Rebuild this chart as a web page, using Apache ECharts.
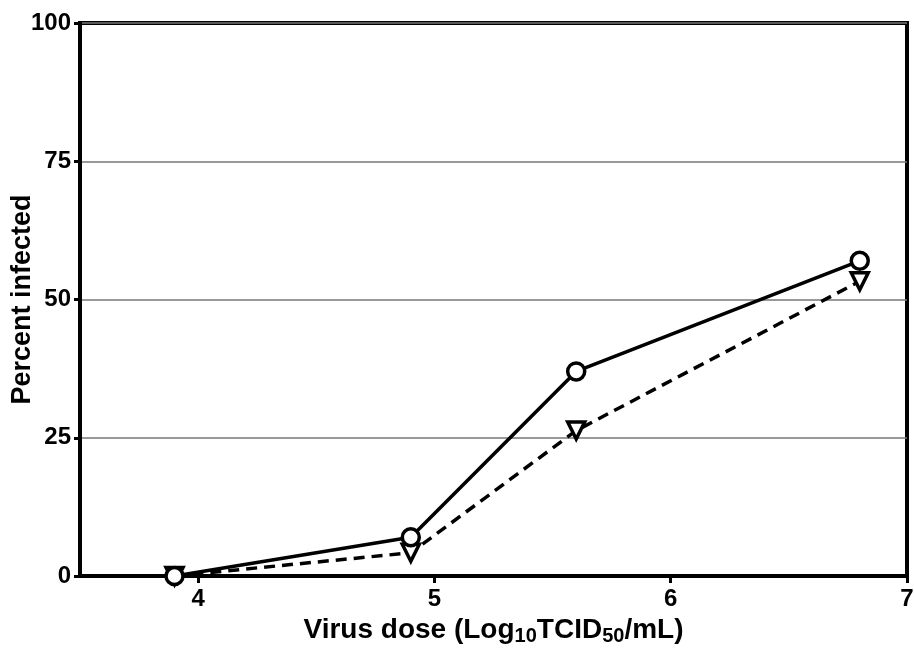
<!DOCTYPE html>
<html>
<head>
<meta charset="utf-8">
<script src="https://cdn.jsdelivr.net/npm/echarts@6/dist/echarts.min.js"></script>
<style>html,body{margin:0;padding:0;background:#fff}#c{width:914px;height:651px}</style>
</head>
<body>
<div id="c"></div>
<script>
const doses = [3.9, 4.9, 5.6, 6.8];
const solidSeries = [0, 7, 37, 57];
const dashedSeries = [0, 4.2, 26.3, 53.3];
const yTicks = [0, 25, 50, 75, 100];
const xTicks = [4, 5, 6, 7];

const chart = echarts.init(document.getElementById('c'), null, {renderer: 'canvas'});
const font = '"Liberation Sans", Arial, Helvetica, sans-serif';
chart.setOption({
  backgroundColor: '#fff',
  animation: false,
  grid: {left: 80, right: 7, top: 23, bottom: 75, outerBoundsMode: 'none', containLabel: false,
    show: true, borderColor: '#000', borderWidth: 4, backgroundColor: 'transparent'},
  xAxis: {
    type: 'value', min: 3.5, max: 7, interval: 0.5,
    axisLine: {show: true, lineStyle: {color: '#000', width: 4}},
    axisTick: {show: true, length: 7, lineStyle: {color: '#000', width: 3},
      customValues: xTicks},
    axisLabel: {customValues: xTicks, color: '#000', fontSize: 24, fontWeight: 'bold', fontFamily: font, margin: 11},
    splitLine: {show: false},
    name: '{b|Virus dose (Log}{s|10}{b|TCID}{s|50}{b|/mL)}',
    nameLocation: 'middle', nameGap: 34,
    nameTextStyle: {
      rich: {
        b: {fontSize: 28, fontWeight: 'bold', fontFamily: font, color: '#000', lineHeight: 34, verticalAlign: 'middle'},
        s: {fontSize: 20, fontWeight: 'bold', fontFamily: font, color: '#000', lineHeight: 16, verticalAlign: 'bottom'}
      }
    }
  },
  yAxis: {
    type: 'value', min: 0, max: 100, interval: 25,
    axisLine: {show: true, lineStyle: {color: '#000', width: 4}},
    axisTick: {show: true, length: 6, lineStyle: {color: '#000', width: 3}},
    axisLabel: {color: '#000', fontSize: 24, fontWeight: 'bold', fontFamily: font, margin: 9,
      formatter: v => yTicks.includes(v) ? String(v) : ''},
    splitLine: {show: true, lineStyle: {color: '#777', width: 1.5}},
    name: 'Percent infected', nameLocation: 'middle', nameGap: 44, nameMoveOverlap: false,
    nameTextStyle: {color: '#000', fontSize: 27, fontWeight: 'bold', fontFamily: font}
  },
  series: [
    {
      type: 'line', data: doses.map((d, i) => [d, solidSeries[i]]),
      lineStyle: {color: '#000', width: 3.5, type: 'solid'},
      symbol: 'circle', symbolSize: 17,
      itemStyle: {color: '#fff', borderColor: '#000', borderWidth: 3.5},
      z: 3
    },
    {
      type: 'line', data: doses.map((d, i) => [d, dashedSeries[i]]),
      lineStyle: {color: '#000', width: 3.5, type: [11, 7]},
      symbol: 'triangle', symbolSize: 17, symbolRotate: 180,
      itemStyle: {color: '#fff', borderColor: '#000', borderWidth: 3.5},
      z: 2
    }
  ]
});
</script>
</body>
</html>
